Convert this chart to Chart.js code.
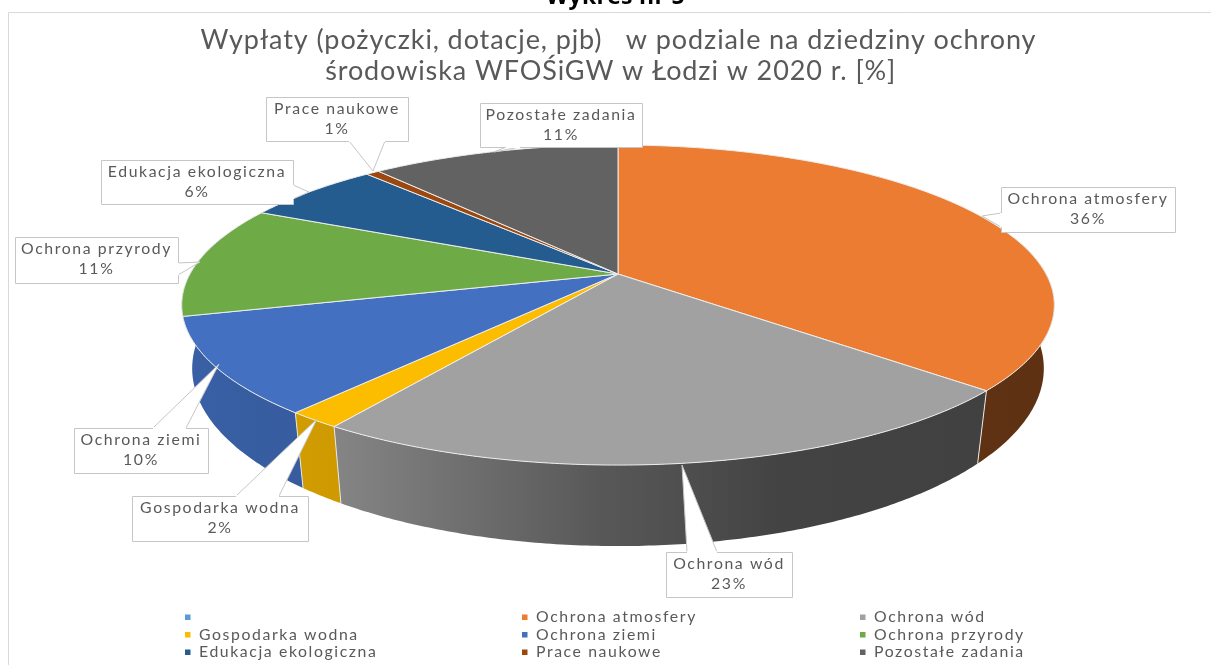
<!DOCTYPE html>
<html><head><meta charset="utf-8">
<style>html,body{margin:0;padding:0;background:#fff;overflow:hidden}canvas{display:block;filter:blur(0.4px)}</style>
<script src="https://cdn.jsdelivr.net/npm/chart.js@4"></script>
</head><body><canvas id="c" width="1211" height="665"></canvas>
<script>
const categories = ['', 'Ochrona atmosfery', 'Ochrona wód', 'Gospodarka wodna', 'Ochrona ziemi', 'Ochrona przyrody', 'Edukacja ekologiczna', 'Prace naukowe', 'Pozostałe zadania'];
const shares = [0, 36.49, 22.9, 1.7, 9.7, 11.3, 6.2, 0.6, 11.11];
const sliceColors = ['#5B9BD5', '#EB7C31', '#A1A1A1', '#FCBD00', '#4370C0', '#6EAA46', '#245C8F', '#9B470E', '#626262'];
const titleLines = ['Wypłaty (pożyczki, dotacje, pjb)   w podziale na dziedziny ochrony', 'środowiska WFOŚiGW w Łodzi w 2020 r. [%]\u00a0\u00a0'];
const heading = 'Wykres nr 5';

// projection of the pie disc (perspective)
const P = {cx: 618, cy: 274, R: 428, H: 154, k: 0.194, wallScaleX: 0.976, wallScaleY: 1.11, wallDrop: 60};
// callouts: box and pointer polygon, by category index
const callouts = {
  1: {box:[1001,187,1175,232], ptr:[[1001,213],[982,216],[1001,227]]},
  2: {box:[666,552,792,597], ptr:[[687,552],[682,465],[717,552]]},
  3: {box:[132,496,308,541], ptr:[[236,496],[317,419],[279,496]]},
  4: {box:[74,428,208,473], ptr:[[153,428],[219,364],[186,428]]},
  5: {box:[15,237,178,283], ptr:[[178,263],[200,262],[178,275]]},
  6: {box:[101,160,293,204], ptr:[[293,185],[309,192],[293,199]]},
  7: {box:[266,97,408,141], ptr:[[349,141],[373,171],[385,141]]},
  8: {box:[480,103,642,147], ptr:[[506,147],[494,152],[520,147]]}
};
const legendCols = [185, 522, 860], legendRows = [617, 634.5, 652];
const shadeStops = [[185,.86],[340,.82],[600,.55],[780,.42],[1060,.40]];
const LABEL_FONT = '15.8px Lato', LABEL_SPACING = '1.6px', TEXT = '#595959';

function topPt(a){ // a: chart angle (0 = 3 o'clock, clockwise)
  const u = Math.cos(a), v = -Math.sin(a), d = 1 + P.k * v;
  return [P.cx + P.R * u / d, P.cy - P.H * v / d];
}
function botPt(a){
  const [x,y] = topPt(a);
  return [P.cx + (x-P.cx)*P.wallScaleX, P.cy + P.wallDrop + (y-P.cy)*P.wallScaleY];
}
function rgb(hex,f){
  const n = parseInt(hex.slice(1),16);
  return `rgb(${((n>>16&255)*f)|0},${((n>>8&255)*f)|0},${((n&255)*f)|0})`;
}
function arcPts(fn,s,e){
  const pts=[], n=Math.max(2,Math.ceil((e-s)/0.01));
  for(let i=0;i<=n;i++) pts.push(fn(s+(e-s)*i/n));
  return pts;
}
function trace(ctx,pts){ pts.forEach((p,i)=> i?ctx.lineTo(p[0],p[1]):ctx.moveTo(p[0],p[1])); }
function trace2(ctx,pts){ pts.forEach(p=>ctx.lineTo(p[0],p[1])); }

const pie3d = {
  id:'pie3d',
  beforeDatasetDraw(chart,args){
    const ctx = chart.ctx, arcs = chart.getDatasetMeta(args.index).data;
    ctx.save();
    // visible part of the outer wall: only the front of the disc
    const WALL_FROM = -0.25, WALL_TO = Math.PI + 0.25;
    const walls = [];
    arcs.forEach((el,i)=>{
      if(el.endAngle-el.startAngle<=0) return;
      if(el.startAngle > Math.PI - 0.4){
        if(walls.length) walls[walls.length-1].e = WALL_TO;
        return;
      }
      walls.push({i, s:Math.max(el.startAngle,WALL_FROM), e:Math.min(el.endAngle,WALL_TO), seam:el.endAngle});
    });
    const x0=shadeStops[0][0], span=shadeStops[shadeStops.length-1][0]-x0;
    walls.forEach(w=>{
      const t=arcPts(topPt,w.s,w.e), b=arcPts(botPt,w.s,w.e).reverse();
      const g=ctx.createLinearGradient(x0,0,x0+span,0);
      shadeStops.forEach(s=>g.addColorStop((s[0]-x0)/span,rgb(sliceColors[w.i],s[1])));
      ctx.beginPath(); trace(ctx,t); trace2(ctx,b); ctx.closePath();
      ctx.fillStyle=g; ctx.fill();
    });
    walls.forEach(w=>{
      if(w.e!==w.seam || w.e>=WALL_TO) return;
      const a=topPt(w.e), c=botPt(w.e);
      ctx.beginPath(); ctx.moveTo(a[0],a[1]); ctx.lineTo(c[0],c[1]);
      ctx.strokeStyle='#e6e6e6'; ctx.lineWidth=1; ctx.stroke();
    });
    arcs.forEach((el,i)=>{
      if(el.endAngle-el.startAngle<=0) return;
      ctx.beginPath(); ctx.moveTo(P.cx,P.cy); trace2(ctx,arcPts(topPt,el.startAngle,el.endAngle)); ctx.closePath();
      ctx.fillStyle=sliceColors[i]; ctx.fill();
      ctx.strokeStyle='#eeeeee'; ctx.lineWidth=1; ctx.lineJoin='round'; ctx.stroke();
    });
    ctx.restore();
    return false;
  },
  beforeDraw(chart){
    const ctx=chart.ctx;
    ctx.save();
    ctx.fillStyle='#fff'; ctx.fillRect(0,0,chart.width,chart.height);
    ctx.strokeStyle='#d9d9d9'; ctx.lineWidth=1;
    ctx.beginPath(); ctx.moveTo(8.5,665); ctx.lineTo(8.5,12.5); ctx.lineTo(1211,12.5); ctx.stroke();
    ctx.font='bold 23px "Open Sans"'; ctx.letterSpacing='0.3px'; ctx.fillStyle='#000'; ctx.textAlign='center'; ctx.textBaseline='alphabetic';
    ctx.fillText(heading,615.5,4);
    ctx.restore();
    ctx.letterSpacing='0.9px';
  },
  afterDraw(chart){
    const ctx=chart.ctx;
    ctx.save();
    ctx.letterSpacing=LABEL_SPACING;
    ctx.font=LABEL_FONT; ctx.textBaseline='middle';
    const vals=chart.data.datasets[0].data, labels=chart.data.labels;
    Object.keys(callouts).forEach(k=>{
      const c=callouts[k], [x0,y0,x1,y1]=c.box;
      ctx.beginPath();
      ctx.rect(x0+.5,y0+.5,x1-x0,y1-y0);
      ctx.fillStyle='#fff'; ctx.fill();
      ctx.strokeStyle='#c6c6c6'; ctx.lineWidth=1; ctx.stroke();
      ctx.beginPath(); trace(ctx,c.ptr); ctx.fillStyle='#fff'; ctx.fill(); ctx.stroke();
      const a=c.ptr[0], z=c.ptr[c.ptr.length-1];
      ctx.beginPath(); ctx.moveTo(a[0],a[1]); ctx.lineTo(z[0],z[1]); ctx.strokeStyle='#fff'; ctx.lineWidth=2; ctx.stroke();
      ctx.fillStyle=TEXT; ctx.textAlign='center';
      const mx=(x0+x1)/2;
      ctx.fillText(labels[k],mx,y0+12);
      ctx.fillText(Math.round(vals[k])+'%',mx,y0+32);
    });
    ctx.textAlign='left';
    labels.forEach((lab,i)=>{
      const col=legendCols[i%3], row=legendRows[Math.floor(i/3)];
      ctx.fillStyle=sliceColors[i]; ctx.fillRect(col,row-2.5,5.5,5.5);
      ctx.fillStyle=TEXT;
      if(lab) ctx.fillText(lab,col+14,row);
    });
    ctx.restore();
  }
};

new Chart(document.getElementById('c'),{
  type:'pie',
  data:{labels:categories,datasets:[{data:shares,backgroundColor:sliceColors,borderColor:'#eeeeee',borderWidth:1}]},
  plugins:[pie3d],
  options:{
    responsive:false,animation:false,
    events:[],
    layout:{padding:{left:26,top:0,right:0,bottom:0}},
    plugins:{
      legend:{display:false},tooltip:{enabled:false},
      title:{display:true,text:titleLines,color:'#595959',align:'center',
        font:{family:'Lato',size:27,weight:'normal',lineHeight:1.148},
        padding:{top:25,bottom:0}}
    }
  }
});
</script></body></html>
